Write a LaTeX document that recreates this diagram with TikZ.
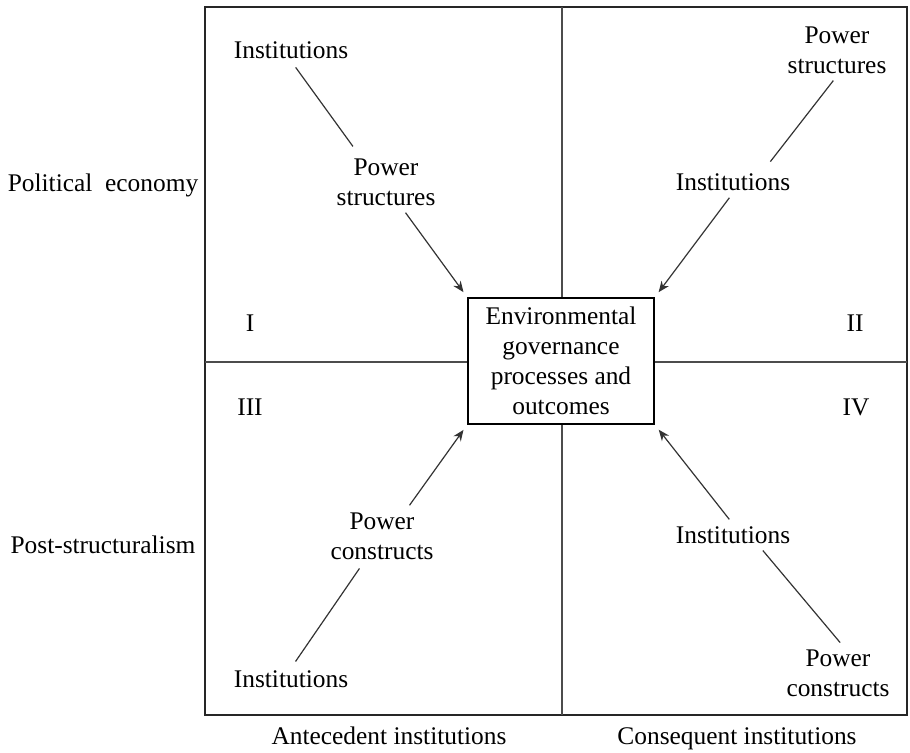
\documentclass[tikz,border=0pt]{standalone}
\usepackage{fontspec}
\setmainfont{Liberation Serif}
\usetikzlibrary{arrows.meta}

\begin{document}
\begin{tikzpicture}[x=0.5pt,y=-0.5pt,
    lbl/.style={align=center,font=\fontsize{12.7}{15}\selectfont,inner sep=1pt},
    link/.style={draw=black!80,line width=0.6pt,shorten <=3pt,shorten >=3pt},
    arr/.style={link,-{Stealth[length=5.5pt,width=4.5pt]}}]
    \useasboundingbox (0,0) rectangle (910,752);
    % Frame and quadrants
    \draw[line width=1pt,black!85] (205,7) rectangle (907,715);
    \draw[line width=0.7pt,black!70] (562,7) -- (562,715);
    \draw[line width=0.7pt,black!70] (205,362) -- (907,362);
    
    % Centre box
    \node[lbl,draw,fill=white,line width=1pt,minimum width=93pt,minimum height=63pt] (env) at (561,361)
        {Environmental\\governance\\processes and\\outcomes};
    
    % Axis labels
    \node[lbl] (pe) at (103,185) {Political\ \ economy};
    \node[lbl] (ps) at (103,545) {Post-structuralism};
    \node[lbl,anchor=base] (ant) at (389,744) {Antecedent institutions};
    \node[lbl,anchor=base] (con) at (737,744) {Consequent institutions};
    
    % Quadrant numbers
    \node[lbl] (qI) at (250,323) {I};
    \node[lbl] (qII) at (855,323) {II};
    \node[lbl] (qIII) at (250,407) {III};
    \node[lbl] (qIV) at (856,407) {IV};
    
    % Quadrant I
    \node[lbl] (i1) at (291,50) {Institutions};
    \node[lbl] (p1) at (386,182) {Power\\structures};
    \draw[link,shorten <=4pt,shorten >=6pt] (i1.south) -- ([xshift=-13pt]p1.north);
    \draw[arr] ([xshift=8pt]p1.south) -- (env.north west);
    
    % Quadrant II
    \node[lbl] (p2) at (837,50) {Power\\structures};
    \node[lbl] (i2) at (733,182) {Institutions};
    \draw[link,shorten >=6pt] (p2.south) -- ([xshift=15pt]i2.north);
    \draw[arr] (i2.south) -- (env.north east);
    
    % Quadrant III
    \node[lbl] (p3) at (382,536) {Power\\constructs};
    \node[lbl] (i3) at (291,679) {Institutions};
    \draw[link,shorten <=4pt,shorten >=4pt] (i3.north) -- ([xshift=-9pt]p3.south);
    \draw[arr] ([xshift=12pt]p3.north) -- (env.south west);
    
    % Quadrant IV
    \node[lbl] (i4) at (733,535) {Institutions};
    \node[lbl] (p4) at (838,673) {Power\\constructs};
    \draw[link] ([xshift=13pt]i4.south) -- ([xshift=3pt]p4.north);
    \draw[arr] (i4.north) -- (env.south east);
\end{tikzpicture}
\end{document}
